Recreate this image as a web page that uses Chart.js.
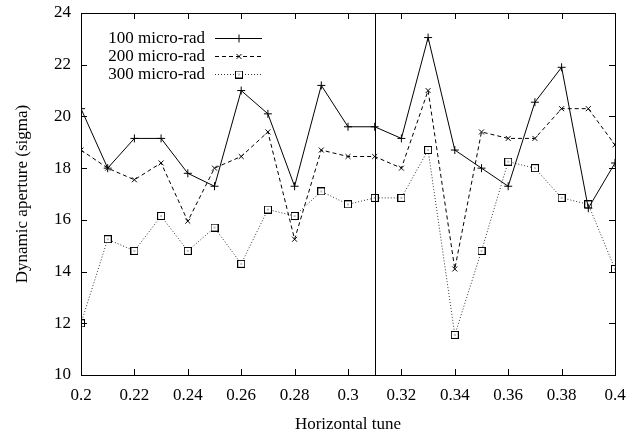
<!DOCTYPE html>
<html>
<head>
<meta charset="utf-8">
<script src="https://cdn.jsdelivr.net/npm/chart.js@4/dist/chart.umd.min.js"></script>
<style>
  html, body { margin: 0; padding: 0; background: #fff; }
  #wrap { width: 640px; height: 435px; }
</style>
</head>
<body>
<div id="wrap"><canvas id="myChart" width="640" height="435"></canvas></div>
<script>
// valores
const tunes = [0.2, 0.21, 0.22, 0.23, 0.24, 0.25, 0.26, 0.27, 0.28, 0.29, 0.3,
               0.31, 0.32, 0.33, 0.34, 0.35, 0.36, 0.37, 0.38, 0.39, 0.4]
const da100 = [20.3, 18.0, 19.15, 19.15, 17.8, 17.3, 21.0, 20.1, 17.3, 21.2, 19.6,
               19.6, 19.15, 23.05, 18.7, 18.0, 17.3, 20.55, 21.9, 16.45, 18.2]
const da200 = [18.7, 18.0, 17.55, 18.2, 15.95, 18.0, 18.45, 19.4, 15.25, 18.7, 18.45,
               18.45, 18.0, 21.0, 14.1, 19.4, 19.15, 19.15, 20.3, 20.3, 18.9]
const da300 = [12.0, 15.25, 14.8, 16.15, 14.8, 15.7, 14.3, 16.4, 16.15, 17.1, 16.6,
               16.85, 16.85, 18.7, 11.55, 14.8, 18.25, 18.0, 16.85, 16.6, 14.1]
const labels = ['100 micro-rad', '200 micro-rad', '300 micro-rad']
const markerTune = 0.31

const FONT = '"Liberation Serif", "DejaVu Serif", serif'

// cuadrado con punto (estilo gnuplot)
const sq = document.createElement('canvas')
sq.width = 8; sq.height = 8
const sctx = sq.getContext('2d')
sctx.fillStyle = '#fff'
sctx.fillRect(0, 0, 8, 8)
sctx.strokeStyle = '#000'
sctx.lineWidth = 1
sctx.strokeRect(0.5, 0.5, 7, 7)
sctx.fillStyle = '#000'
sctx.fillRect(3.5, 3.5, 1, 1)

function pts(arr) {
    return tunes.map((t, i) => ({ x: t, y: arr[i] }))
}

// marco, ticks hacia dentro, linea vertical y leyenda
const gnuplotPlugin = {
    id: 'gnuplot',
    afterDatasetsDraw(chart) {
        const c = chart.ctx
        const a = chart.chartArea
        const xs = chart.scales.x
        const ys = chart.scales.y
        c.save()
        c.strokeStyle = '#000'
        c.lineWidth = 1
        // linea vertical
        const vx = Math.round(xs.getPixelForValue(markerTune)) + 0.5
        c.beginPath()
        c.moveTo(vx, a.top)
        c.lineTo(vx, a.bottom)
        c.stroke()
        // marco
        c.strokeRect(Math.round(a.left) + 0.5, Math.round(a.top) + 0.5,
                     Math.round(a.right - a.left), Math.round(a.bottom - a.top))
        // ticks
        const tl = 6
        c.beginPath()
        xs.ticks.forEach(t => {
            const px = Math.round(xs.getPixelForValue(t.value)) + 0.5
            c.moveTo(px, a.bottom); c.lineTo(px, a.bottom - tl)
            c.moveTo(px, a.top); c.lineTo(px, a.top + tl)
        })
        ys.ticks.forEach(t => {
            const py = Math.round(ys.getPixelForValue(t.value)) + 0.5
            c.moveTo(a.left, py); c.lineTo(a.left + tl, py)
            c.moveTo(a.right, py); c.lineTo(a.right - tl, py)
        })
        c.stroke()
        // leyenda
        c.font = '17px ' + FONT
        c.textAlign = 'right'
        c.textBaseline = 'middle'
        chart.data.datasets.forEach((ds, i) => {
            const y = 38 + i * 18
            c.fillStyle = '#000'
            c.fillText(ds.label, 205, y + 1)
            c.save()
            c.strokeStyle = ds.borderColor
            c.setLineDash(ds.borderDash || [])
            c.beginPath()
            c.moveTo(215, y + 0.5)
            c.lineTo(262, y + 0.5)
            c.stroke()
            c.restore()
            c.strokeStyle = '#000'
            c.fillStyle = '#000'
            Chart.helpers.drawPoint(c, {
                pointStyle: ds.pointStyle, radius: ds.pointRadius,
                rotation: 0, borderWidth: 1
            }, 239, y + 0.5)
        })
        c.restore()
    }
}

const ctx = document.getElementById('myChart').getContext('2d')

new Chart(ctx, {
    type: 'line',
    data: {
        datasets: [{
            label: labels[0],
            data: pts(da100),
            borderColor: '#000',
            borderWidth: 1,
            pointStyle: 'cross',
            pointRadius: 4,
            pointBorderColor: '#000',
            pointBorderWidth: 1
        }, {
            label: labels[1],
            data: pts(da200),
            borderColor: '#000',
            borderWidth: 1,
            borderDash: [4, 3],
            pointStyle: 'crossRot',
            pointRadius: 3.5,
            pointBorderColor: '#000',
            pointBorderWidth: 1
        }, {
            label: labels[2],
            data: pts(da300),
            borderColor: '#333',
            borderWidth: 1,
            borderDash: [1, 2],
            pointStyle: sq,
            pointRadius: 4,
            pointBorderColor: '#000',
            pointBorderWidth: 1
        }]
    },
    options: {
        responsive: false,
        animation: false,
        layout: { padding: { left: 0, right: 25, top: 13, bottom: 0 } },
        plugins: {
            legend: { display: false },
            tooltip: { enabled: false }
        },
        elements: { line: { tension: 0 } },
        scales: {
            x: {
                type: 'linear',
                min: 0.2,
                max: 0.4,
                grid: { display: false, drawTicks: false },
                border: { display: false },
                ticks: {
                    stepSize: 0.02,
                    color: '#000',
                    padding: 10,
                    maxRotation: 0,
                    font: { family: FONT, size: 17 },
                    callback: v => String(Number(v.toFixed(2)))
                },
                title: {
                    display: true,
                    text: 'Horizontal tune',
                    color: '#000',
                    font: { family: FONT, size: 17 },
                    padding: { top: 8, bottom: 0 }
                },
                afterFit: s => {
                    s.height = 60
                    s.paddingLeft = 0
                    s.paddingRight = 0
                }
            },
            y: {
                min: 10,
                max: 24,
                grid: { display: false, drawTicks: false },
                border: { display: false },
                ticks: {
                    stepSize: 2,
                    color: '#000',
                    padding: 10,
                    font: { family: FONT, size: 17 }
                },
                title: {
                    display: true,
                    text: 'Dynamic aperture (sigma)',
                    color: '#000',
                    font: { family: FONT, size: 17 },
                    padding: { top: 12, bottom: 0 }
                },
                afterFit: s => {
                    s.width = 81
                    s.paddingTop = 0
                    s.paddingBottom = 0
                }
            }
        }
    },
    plugins: [gnuplotPlugin]
})
</script>
</body>
</html>
